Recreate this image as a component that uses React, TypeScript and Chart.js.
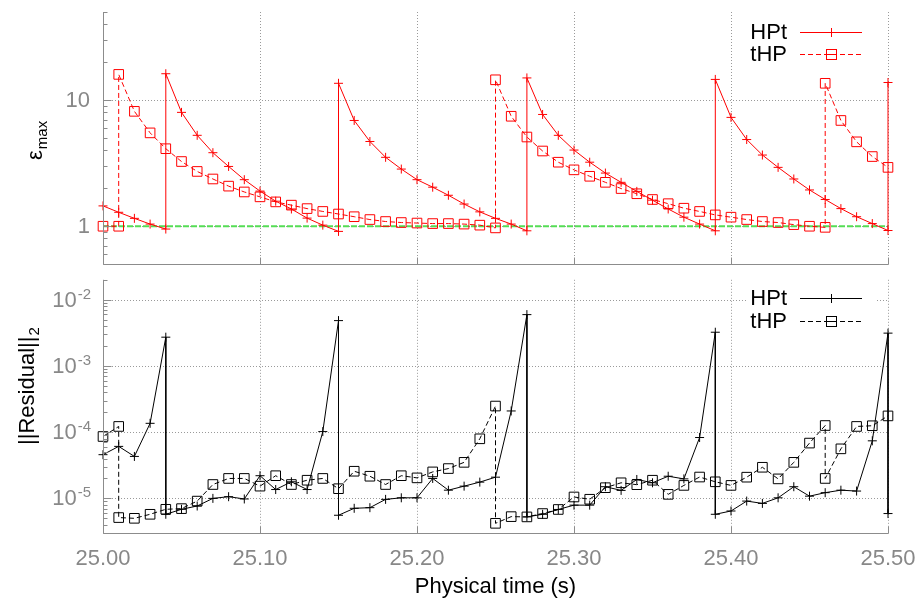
import React, { useEffect, useRef } from 'react';
import { Chart, registerables } from 'chart.js';

Chart.register(...registerables);

// ---------- data ----------
const TIME = [
  25.00, 25.01, 25.02, 25.03, 25.04, 25.05, 25.06, 25.07, 25.08, 25.09,
  25.10, 25.11, 25.12, 25.13, 25.14, 25.15, 25.16, 25.17, 25.18, 25.19,
  25.20, 25.21, 25.22, 25.23, 25.24, 25.25, 25.26, 25.27, 25.28, 25.29,
  25.30, 25.31, 25.32, 25.33, 25.34, 25.35, 25.36, 25.37, 25.38, 25.39,
  25.40, 25.41, 25.42, 25.43, 25.44, 25.45, 25.46, 25.47, 25.48, 25.49,
  25.50,
];

// entries given as [a, b] are two values at the same time (a vertical jump)
const HPT_EPS: (number | number[])[] = [
  1.45, 1.29, 1.155, 1.04, [0.95, 16.2], 8.0, 5.26, 3.83, 2.98, 2.34,
  1.90, 1.58, 1.37, 1.16, 1.02, [0.91, 13.6], 6.9, 4.7, 3.52, 2.84,
  2.34, 2.04, 1.76, 1.50, 1.30, 1.155, 1.04, [0.92, 15.0], 7.7, 5.26,
  4.02, 3.22, 2.64, 2.23, 1.89, 1.61, 1.37, 1.18, 1.04, [0.92, 14.6],
  7.3, 4.87, 3.67, 2.93, 2.37, 1.94, 1.63, 1.38, 1.19, 1.05,
  [0.925, 13.8],
];

const THP_EPS: (number | number[])[] = [
  1.0, [1.0, 16.0], 8.15, 5.5, 4.12, 3.26, 2.72, 2.37, 2.08, 1.87,
  1.71, 1.56, 1.47, 1.38, 1.31, 1.25, 1.19, 1.13, 1.09, 1.07,
  1.06, 1.05, 1.05, 1.04, 1.02, [0.97, 14.5], 7.45, 5.1, 3.95, 3.22,
  2.8, 2.49, 2.23, 1.99, 1.81, 1.63, 1.51, 1.39, 1.31, 1.23,
  1.18, 1.13, 1.09, 1.07, 1.03, 1.0, [0.98, 13.6], 6.9, 4.67, 3.57,
  2.93,
];

const REF_TIME = [25.0, 25.5];
const REF_EPS = [1, 1];

const HPT_RES: (number | number[])[] = [
  4.57e-5, 6.1e-5, 4.3e-5, 1.36e-4, [2.72e-3, 5.75e-6], 6.84e-6, 7.67e-6, 1.0e-5, 1.06e-5, 0.98e-5,
  2.2e-5, 1.36e-5, 1.78e-5, 1.36e-5, 1.02e-4, [4.84e-3, 5.56e-6], 7.08e-6, 7.24e-6, 9.66e-6, 1.02e-5,
  1.02e-5, 2.0e-5, 1.33e-5, 1.53e-5, 1.76e-5, 2.09e-5, 2.09e-4, [5.96e-3, 5.25e-6], 5.75e-6, 6.8e-6,
  7.9e-6, 7.9e-6, 1.5e-5, 1.32e-5, 1.93e-5, 1.72e-5, 2.16e-5, 1.97e-5, 8.3e-5, [3.23e-3, 5.75e-6],
  6.45e-6, 9.1e-6, 8.4e-6, 1.02e-5, 1.5e-5, 1.08e-5, 1.22e-5, 1.33e-5, 1.29e-5, 7.4e-5,
  [3.13e-3, 5.9e-6],
];

const THP_RES: (number | number[])[] = [
  8.6e-5, [1.22e-4, 5.13e-6], 5.0e-6, 5.75e-6, 6.84e-6, 7.0e-6, 9.1e-6, 1.62e-5, 2.0e-5, 2.0e-5,
  1.53e-5, 2.2e-5, 1.62e-5, 1.88e-5, 2.0e-5, 1.4e-5, 2.57e-5, 2.16e-5, 1.62e-5, 2.2e-5,
  2.04e-5, 2.51e-5, 2.82e-5, 3.5e-5, 7.94e-5, [2.48e-4, 4.2e-6], 5.3e-6, 5.25e-6, 5.9e-6, 6.8e-6,
  1.05e-5, 9.7e-6, 1.45e-5, 1.72e-5, 1.61e-5, 1.88e-5, 1.15e-5, 1.57e-5, 2.1e-5, 1.78e-5,
  1.57e-5, 2.09e-5, 2.95e-5, 1.97e-5, 3.5e-5, 6.84e-5, [1.26e-4, 2.0e-5], 5.6e-5, 1.22e-4, 1.25e-4,
  1.76e-4,
];

const X_TICKS = [25.0, 25.1, 25.2, 25.3, 25.4, 25.5];
const EPS_TICKS = [1, 10];
const RES_TICKS = [1e-5, 1e-4, 1e-3, 1e-2];
const SERIES = ['HPt', 'tHP'];
const X_TITLE = 'Physical time (s)';

// ---------- style ----------
const FONT = '"Liberation Sans", Arial, Helvetica, sans-serif';
const RED = '#ff0000';
const BLACK = '#000000';
const GREEN = '#55dd55';
const AXIS = '#8c8c8c';
const GRID = '#9a9a9a';
const LABEL = '#888888';

function toPoints(vals: (number | number[])[]) {
  const out: { x: number; y: number }[] = [];
  vals.forEach((v, i) => {
    (Array.isArray(v) ? v : [v]).forEach((y) => out.push({ x: TIME[i], y }));
  });
  return out;
}

function logTicks(min: number, max: number) {
  const out: { v: number; major: boolean }[] = [];
  for (let e = Math.floor(Math.log10(min)) - 1; e <= Math.ceil(Math.log10(max)); e++) {
    for (let k = 1; k <= 9; k++) {
      const v = k * Math.pow(10, e);
      if (v >= min * 0.999 && v <= max * 1.001) out.push({ v, major: k === 1 });
    }
  }
  return out;
}

type DecorOpts = {
  id: string;
  yMajors: number[];
  yMin: number;
  yMax: number;
  pow: boolean;
  xLabels: boolean;
  color: string;
  legendY: number[];
  title: { main: string; sub: string; x: number; y: number };
};

function makeDecor(o: DecorOpts) {
  return {
    id: o.id,
    beforeDatasetsDraw(chart: any) {
      const { ctx, chartArea: a } = chart;
      const xs = chart.scales.x;
      const ys = chart.scales.y;
      ctx.save();
      ctx.strokeStyle = GRID;
      ctx.lineWidth = 1;
      ctx.setLineDash([1, 2]);
      ctx.beginPath();
      X_TICKS.slice(1).forEach((v) => {
        const px = Math.round(xs.getPixelForValue(v)) + 0.5;
        ctx.moveTo(px, a.top);
        ctx.lineTo(px, a.bottom);
      });
      o.yMajors.forEach((v) => {
        const py = Math.round(ys.getPixelForValue(v)) + 0.5;
        ctx.moveTo(a.left, py);
        ctx.lineTo(a.right, py);
      });
      ctx.stroke();
      ctx.restore();
    },
    afterDatasetsDraw(chart: any) {
      const { ctx, chartArea: a } = chart;
      const xs = chart.scales.x;
      const ys = chart.scales.y;
      ctx.save();
      ctx.setLineDash([]);
      ctx.strokeStyle = AXIS;
      ctx.lineWidth = 1;
      const lx = Math.round(a.left) + 0.5;
      const by = Math.round(a.bottom) + 0.5;
      ctx.beginPath();
      ctx.moveTo(lx, a.top);
      ctx.lineTo(lx, by);
      ctx.lineTo(a.right + 0.5, by);
      logTicks(o.yMin, o.yMax).forEach((t) => {
        const py = Math.round(ys.getPixelForValue(t.v)) + 0.5;
        ctx.moveTo(lx, py);
        ctx.lineTo(lx + (t.major ? 8 : 4), py);
      });
      X_TICKS.forEach((v) => {
        const px = Math.round(xs.getPixelForValue(v)) + 0.5;
        ctx.moveTo(px, by);
        ctx.lineTo(px, by - 7);
      });
      ctx.stroke();

      // y tick labels
      ctx.fillStyle = LABEL;
      o.yMajors.forEach((v) => {
        const py = ys.getPixelForValue(v);
        if (!o.pow) {
          ctx.font = `22px ${FONT}`;
          ctx.textAlign = 'right';
          ctx.textBaseline = 'middle';
          ctx.fillText(String(v), 90, py + 1);
        } else {
          const e = String(Math.round(Math.log10(v)));
          ctx.font = `15px ${FONT}`;
          const sw = ctx.measureText(e).width;
          ctx.textBaseline = 'alphabetic';
          ctx.textAlign = 'left';
          const right = 91;
          ctx.fillText(e, right - sw, py - 1);
          ctx.font = `22px ${FONT}`;
          ctx.textAlign = 'right';
          ctx.fillText('10', right - sw - 1, py + 7);
        }
      });

      // x tick labels + title
      if (o.xLabels) {
        ctx.font = `22px ${FONT}`;
        ctx.textAlign = 'center';
        ctx.textBaseline = 'alphabetic';
        X_TICKS.forEach((v) => {
          ctx.fillText(v.toFixed(2), xs.getPixelForValue(v), by + 31);
        });
        ctx.fillStyle = BLACK;
        ctx.fillText(X_TITLE, (a.left + a.right) / 2, by + 59);
      }

      // y title (rotated, with subscript)
      ctx.save();
      ctx.fillStyle = BLACK;
      ctx.translate(o.title.x, o.title.y);
      ctx.rotate(-Math.PI / 2);
      ctx.textAlign = 'left';
      ctx.textBaseline = 'alphabetic';
      ctx.font = `22px ${FONT}`;
      ctx.fillText(o.title.main, 0, 0);
      const mw = ctx.measureText(o.title.main).width;
      ctx.font = `15px ${FONT}`;
      ctx.fillText(o.title.sub, mw + 1, 5);
      ctx.restore();

      // key (solid pieces drawn as filled rects)
      const [r1, r2] = o.legendY;
      ctx.fillStyle = '#ffffff';
      ctx.fillRect(746, r1 - 12, 130, r2 - r1 + 24);
      SERIES.forEach((name, i) => {
        const yr = Math.round(o.legendY[i]);
        ctx.font = `22px ${FONT}`;
        ctx.fillStyle = BLACK;
        ctx.textAlign = 'right';
        ctx.textBaseline = 'middle';
        ctx.fillText(name, 787, yr + 1);
        ctx.fillStyle = o.color;
        if (i === 0) {
          ctx.fillRect(800, yr, 62, 1);
          ctx.fillRect(831, yr - 4, 1, 9);
        } else {
          for (let xd = 800; xd < 862; xd += 8) {
            ctx.fillRect(xd, yr, Math.min(5, 862 - xd), 1);
          }
          ctx.fillStyle = '#ffffff';
          ctx.fillRect(827, yr - 4, 9, 9);
          ctx.fillStyle = o.color;
          ctx.fillRect(826, yr - 5, 11, 1);
          ctx.fillRect(826, yr + 5, 11, 1);
          ctx.fillRect(826, yr - 5, 1, 11);
          ctx.fillRect(836, yr - 5, 1, 11);
          ctx.fillRect(827, yr, 9, 1);
        }
      });
      ctx.restore();
    },
  };
}

function seriesDatasets(hpt: (number | number[])[], thp: (number | number[])[], color: string) {
  return [
    {
      label: SERIES[0],
      data: toPoints(hpt),
      borderColor: color,
      borderWidth: 1,
      pointStyle: 'cross',
      pointRadius: 4.5,
      pointBorderWidth: 1,
      pointBorderColor: color,
      pointBackgroundColor: 'transparent',
      tension: 0,
      fill: false,
      clip: false,
    },
    {
      label: SERIES[1],
      data: toPoints(thp),
      borderColor: color,
      borderWidth: 1,
      borderDash: [5, 3],
      pointStyle: 'rect',
      pointRadius: 6.8,
      pointBorderWidth: 1,
      pointBorderColor: color,
      pointBackgroundColor: 'transparent',
      tension: 0,
      fill: false,
      clip: false,
    },
  ];
}

function baseOptions(padding: any, yMin: number, yMax: number) {
  return {
    responsive: false,
    animation: false,
    devicePixelRatio: 1,
    events: [],
    layout: { padding },
    plugins: { legend: { display: false }, tooltip: { enabled: false } },
    scales: {
      x: { type: 'linear', min: 25.0, max: 25.5, display: false },
      y: { type: 'logarithmic', min: yMin, max: yMax, display: false },
    },
  };
}

export default function App() {
  const topRef = useRef<HTMLCanvasElement | null>(null);
  const botRef = useRef<HTMLCanvasElement | null>(null);

  useEffect(() => {
    const top = new Chart(topRef.current as HTMLCanvasElement, {
      type: 'line',
      data: {
        datasets: [
          ...seriesDatasets(HPT_EPS, THP_EPS, RED),
          {
            label: 'ref',
            data: REF_TIME.map((t, i) => ({ x: t, y: REF_EPS[i] })),
            borderColor: GREEN,
            borderWidth: 1.8,
            borderDash: [6, 2],
            pointRadius: 0,
            fill: false,
          },
        ] as any,
      },
      options: baseOptions({ left: 103, right: 32, top: 12, bottom: 5 }, 0.5, 50) as any,
      plugins: [
        makeDecor({
          id: 'decorTop',
          yMajors: EPS_TICKS,
          yMin: 0.5,
          yMax: 50,
          pow: false,
          xLabels: false,
          color: RED,
          legendY: [32, 54],
          title: { main: 'ε', sub: 'max', x: 42, y: 160 },
        }),
      ] as any,
    });

    const bot = new Chart(botRef.current as HTMLCanvasElement, {
      type: 'line',
      data: { datasets: seriesDatasets(HPT_RES, THP_RES, BLACK) as any },
      options: baseOptions({ left: 103, right: 32, top: 6, bottom: 71 }, 3e-6, 2e-2) as any,
      plugins: [
        makeDecor({
          id: 'decorBottom',
          yMajors: RES_TICKS,
          yMin: 3e-6,
          yMax: 2e-2,
          pow: true,
          xLabels: true,
          color: BLACK,
          legendY: [26, 49],
          title: { main: '||Residual||', sub: '2', x: 34, y: 173 },
        }),
      ] as any,
    });

    return () => {
      top.destroy();
      bot.destroy();
    };
  }, []);

  return (
    <div style={{ position: 'fixed', left: 0, top: 0, width: 920, height: 604, background: '#fff' }}>
      <canvas ref={topRef} width={920} height={272} style={{ position: 'absolute', left: 0, top: 0, width: 920, height: 272 }} />
      <canvas ref={botRef} width={920} height={332} style={{ position: 'absolute', left: 0, top: 272, width: 920, height: 332 }} />
    </div>
  );
}
